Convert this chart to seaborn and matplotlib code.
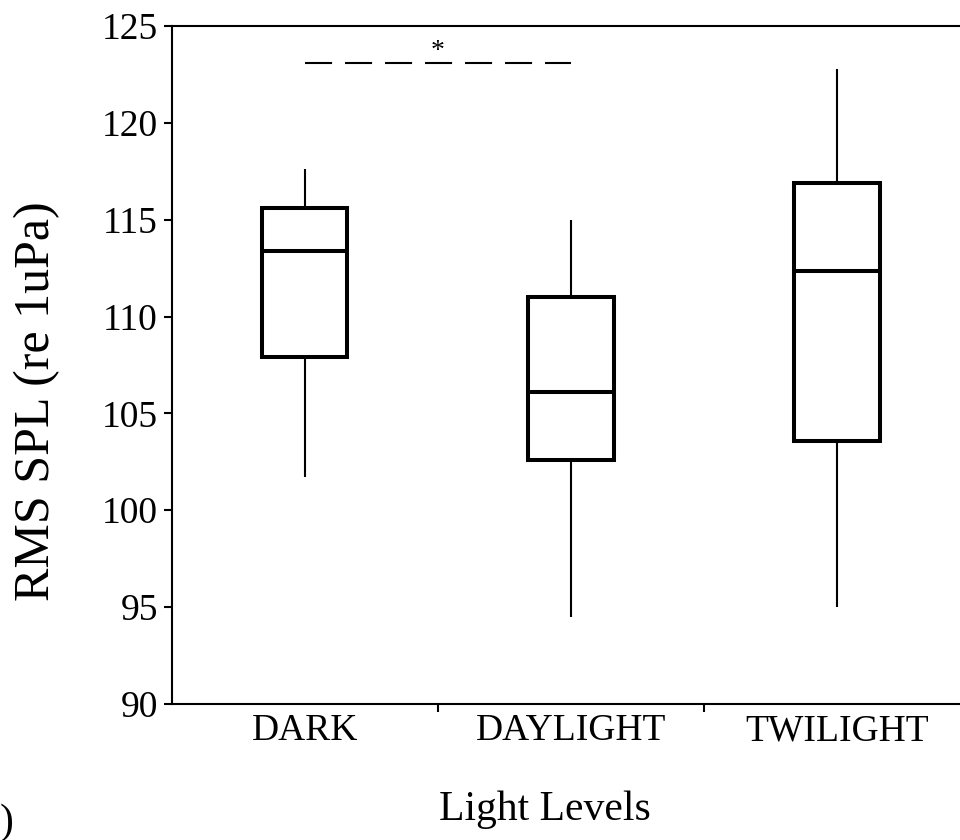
import numpy as np
import pandas as pd
import matplotlib
matplotlib.use("Agg")
import matplotlib.pyplot as plt
import seaborn as sns

# Light-level groups and five-number summaries (min, Q1, median, Q3, max) of RMS SPL
levels = ["DARK", "DAYLIGHT", "TWILIGHT"]
dark = [101.7, 107.9, 113.4, 115.6, 117.6]
daylight = [94.5, 102.6, 106.1, 111.0, 115.0]
twilight = [95.0, 103.6, 112.35, 116.9, 122.8]

y_ticks = [90, 95, 100, 105, 110, 115, 120, 125]
sig_level = 123.1   # height of the significance bracket
sig_pair = ["DARK", "DAYLIGHT"]

df = pd.DataFrame({
    "level": np.repeat(levels, 5),
    "spl": dark + daylight + twilight,
})

sns.set_style("ticks")
plt.rcParams["font.family"] = ["Liberation Serif", "DejaVu Serif"]
plt.rcParams["text.color"] = "black"
plt.rcParams["axes.labelcolor"] = "black"
plt.rcParams["xtick.color"] = "black"
plt.rcParams["ytick.color"] = "black"

fig = plt.figure(figsize=(9.6, 8.4), dpi=100)
ax = fig.add_axes([0.179, 0.162, 0.8315, 0.807])

sns.boxplot(
    data=df, x="level", y="spl", order=levels,
    whis=(0, 100), width=0.32, color="white", linecolor="black",
    linewidth=2.9, showcaps=False,
    whiskerprops=dict(linewidth=1.5),
    medianprops=dict(linewidth=2.9),
    ax=ax,
)

# significance bracket between DARK and DAYLIGHT
x0, x1 = levels.index(sig_pair[0]), levels.index(sig_pair[1])
ax.plot([x0, x1], [sig_level, sig_level], color="black", lw=1.5,
        linestyle=(0, (13.0, 6.2)))
ax.text((x0 + x1) / 2, sig_level - 0.05, "*", ha="center", va="bottom",
        fontsize=20, color="black")

ax.set_ylim(90, 125)
ax.set_xlim(-0.5, 2.5)
ax.set_yticks(y_ticks)
ax.set_yticklabels([str(t) for t in y_ticks], fontsize=27)
ax.tick_params(axis="y", length=6, width=1.5, pad=4, colors="black")

# category names centred, tick marks only at group boundaries
ax.set_xticks(range(len(levels)))
ax.set_xticklabels(levels, fontsize=27)
ax.tick_params(axis="x", which="major", length=0, pad=7, colors="black")
ax.set_xticks([0.5, 1.5], minor=True)
ax.tick_params(axis="x", which="minor", length=6, width=1.5, direction="out")

for side in ["left", "bottom", "top", "right"]:
    ax.spines[side].set_visible(True)
    ax.spines[side].set_linewidth(1.5)
    ax.spines[side].set_color("black")

ax.set_xlabel("Light Levels", fontsize=30, color="black")
ax.set_ylabel("RMS SPL (re 1uPa)", fontsize=36, color="black")
ax.xaxis.set_label_coords(0.467, -0.128)
ax.yaxis.set_label_coords(-0.140, 0.447)

fig.text(0.0, -0.002, ")", fontsize=30, ha="left", va="bottom", color="black")

fig.savefig("out.png", dpi=100, facecolor="white")
